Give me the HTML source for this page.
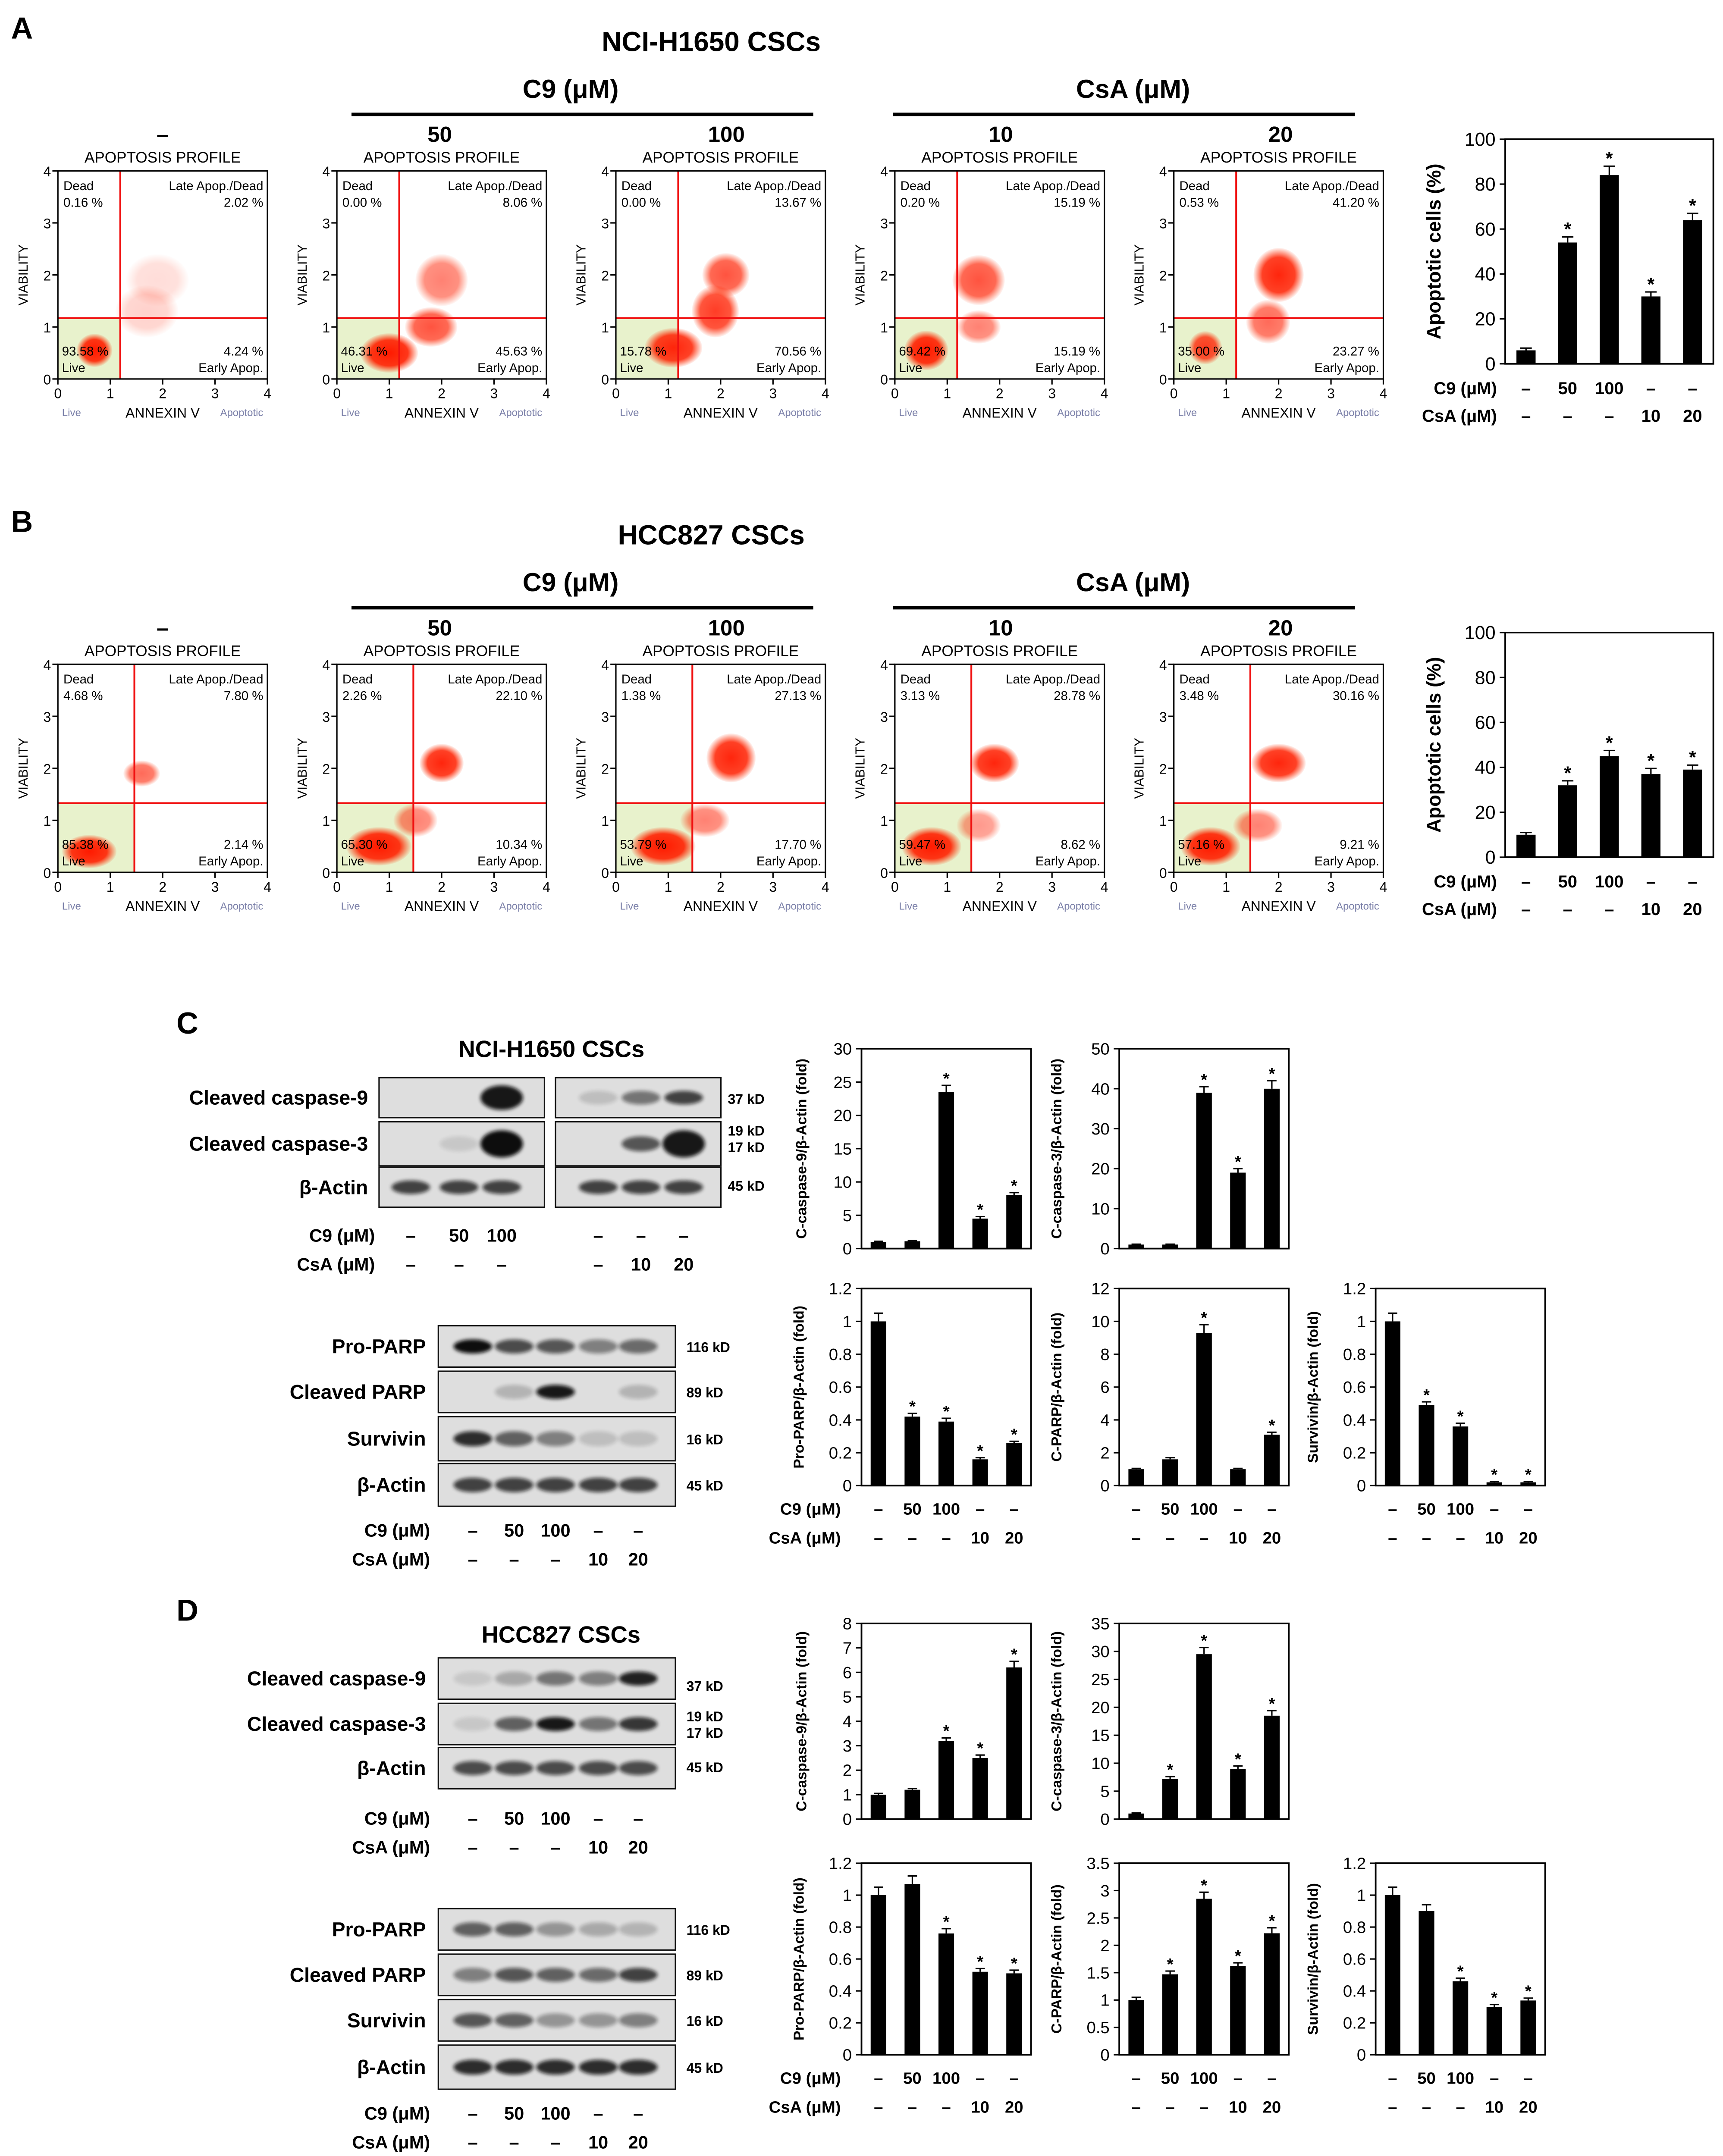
<!DOCTYPE html>
<html><head><meta charset="utf-8">
<style>
html,body{margin:0;padding:0;background:#fff;width:3995px;height:5019px;overflow:hidden;}
svg{display:block;}
text{font-family:"Liberation Sans",Arial,sans-serif;}
</style></head>
<body>
<svg id="fig" xmlns="http://www.w3.org/2000/svg" width="3995" height="5019" viewBox="0 0 1250 1570.4" preserveAspectRatio="none">
<defs>
<filter id="blur" x="-50%" y="-50%" width="200%" height="200%"><feGaussianBlur stdDeviation="1.3"/></filter>
<radialGradient id="cloud"><stop offset="0" stop-color="#ff1a00" stop-opacity="1"/><stop offset="0.65" stop-color="#ff2000" stop-opacity="0.9"/><stop offset="1" stop-color="#ff3000" stop-opacity="0.05"/></radialGradient>
</defs>
</svg>
<script>
// ---------- DATA ----------
const flowPctA=[["0.16","2.02","4.24","93.58"],["0.00","8.06","45.63","46.31"],["0.00","13.67","70.56","15.78"],["0.20","15.19","15.19","69.42"],["0.53","41.20","23.27","35.00"]];
const flowPctB=[["4.68","7.80","2.14","85.38"],["2.26","22.10","10.34","65.30"],["1.38","27.13","17.70","53.79"],["3.13","28.78","8.62","59.47"],["3.48","30.16","9.21","57.16"]];
const clustersA=[
 [[0.7,0.55,0.34,0.32,1],[1.7,1.3,0.6,0.5,0.2],[1.9,1.9,0.6,0.5,0.15]],
 [[1.0,0.5,0.55,0.38,1],[1.8,1.0,0.5,0.38,0.75],[2.0,1.9,0.5,0.5,0.55]],
 [[1.1,0.6,0.55,0.38,0.95],[1.9,1.3,0.45,0.5,0.85],[2.1,2.0,0.45,0.42,0.75]],
 [[0.6,0.55,0.42,0.38,1],[1.6,1.9,0.5,0.48,0.75],[1.6,1.0,0.42,0.32,0.55]],
 [[0.6,0.6,0.32,0.32,0.85],[2.0,2.0,0.48,0.52,0.95],[1.8,1.1,0.42,0.42,0.65]]];
const clustersB=[
 [[0.6,0.4,0.52,0.32,1],[1.6,1.9,0.35,0.25,0.65]],
 [[0.8,0.5,0.62,0.37,1],[2.0,2.1,0.42,0.37,0.95],[1.5,1.0,0.42,0.32,0.55]],
 [[0.9,0.5,0.62,0.37,1],[2.2,2.2,0.47,0.47,0.95],[1.7,1.0,0.47,0.32,0.55]],
 [[0.7,0.5,0.57,0.37,1],[1.9,2.1,0.47,0.37,0.95],[1.6,0.9,0.42,0.32,0.45]],
 [[0.7,0.5,0.57,0.37,1],[2.0,2.1,0.52,0.37,0.95],[1.6,0.9,0.47,0.32,0.55]]];
const quadA=[1.19,1.17];
const quadB=[1.46,1.33];
const c9Labels=["–","50","100","–","–"];
const csaLabels=["–","–","–","10","20"];
const apoA=[6,54,84,30,64];const apoAErr=[1,2.5,4,2,3];const apoAStar=[0,1,1,1,1];
const apoB=[10,32,45,37,39];const apoBErr=[1,2,2.5,2.5,2];const apoBStar=[0,1,1,1,1];
const cCas9=[1,1.1,23.5,4.5,8];const cCas9Err=[0.1,0.1,1,0.3,0.4];const cCas9Star=[0,0,1,1,1];
const cCas3=[1,1,39,19,40];const cCas3Err=[0.1,0.1,1.5,1,2];const cCas3Star=[0,0,1,1,1];
const cPro=[1,0.42,0.39,0.16,0.26];const cProErr=[0.05,0.02,0.02,0.01,0.01];const cProStar=[0,1,1,1,1];
const cCparp=[1,1.6,9.3,1,3.1];const cCparpErr=[0.05,0.1,0.5,0.05,0.15];const cCparpStar=[0,0,1,0,1];
const cSurv=[1,0.49,0.36,0.02,0.02];const cSurvErr=[0.05,0.02,0.02,0.005,0.005];const cSurvStar=[0,1,1,1,1];
const dCas9=[1,1.2,3.2,2.5,6.2];const dCas9Err=[0.05,0.05,0.12,0.12,0.25];const dCas9Star=[0,0,1,1,1];
const dCas3=[1,7.2,29.5,9,18.5];const dCas3Err=[0.1,0.4,1.2,0.5,0.9];const dCas3Star=[0,1,1,1,1];
const dPro=[1,1.07,0.76,0.52,0.51];const dProErr=[0.05,0.05,0.03,0.02,0.02];const dProStar=[0,0,1,1,1];
const dCparp=[1,1.47,2.85,1.62,2.22];const dCparpErr=[0.05,0.06,0.12,0.06,0.1];const dCparpStar=[0,1,1,1,1];
const dSurv=[1,0.9,0.46,0.3,0.34];const dSurvErr=[0.05,0.04,0.02,0.015,0.015];const dSurvStar=[0,0,1,1,1];

// ---------- HELPERS ----------
const NS='http://www.w3.org/2000/svg';
const svg=document.getElementById('fig');
function mk(tag,a,p){const e=document.createElementNS(NS,tag);for(const k in a)e.setAttribute(k,a[k]);(p||svg).appendChild(e);return e;}
function tx(x,y,s,size,anchor,weight,fill,p,rot){
  const e=mk('text',{x:x,y:y,'font-size':size,'text-anchor':anchor||'start','font-weight':weight||'normal',fill:fill||'#000'},p);
  if(rot)e.setAttribute('transform','rotate(-90 '+x+' '+y+')');
  e.textContent=s;return e;}
function line(x1,y1,x2,y2,st,w,p){return mk('line',{x1:x1,y1:y1,x2:x2,y2:y2,stroke:st||'#000','stroke-width':w||1},p);}

// ---------- FLOW PLOT ----------
function flow(ox,oy,pcts,clusters,q,name){
  const g=mk('g',{});
  
  
  const W=152,H=151;
  const sx=v=>ox+v*W/4, sy=v=>oy-v*H/4;
  tx(ox+W/2,oy-H-6,'APOPTOSIS PROFILE',11,'middle','normal','#000',g);
  mk('rect',{x:sx(0),y:sy(q[1]),width:sx(q[0])-sx(0),height:sy(0)-sy(q[1]),fill:'#e8f2cc'},g);
  clusters.forEach(c=>{
    const e=mk('ellipse',{cx:sx(c[0]),cy:sy(c[1]),rx:c[2]*W/4,ry:c[3]*H/4,fill:'url(#cloud)',opacity:c[4]},g);
    
    
  });
  line(sx(q[0]),sy(4),sx(q[0]),sy(0),'#f01010',1.3,g);
  line(sx(0),sy(q[1]),sx(4),sy(q[1]),'#f01010',1.3,g);
  mk('rect',{x:ox,y:oy-H,width:W,height:H,fill:'none',stroke:'#000','stroke-width':1},g);
  for(let i=0;i<=4;i++){
    line(sx(i),oy,sx(i),oy+4,'#000',1,g);line(ox-4,sy(i),ox,sy(i),'#000',1,g);
    tx(sx(i),oy+14,String(i),10,'middle','normal','#000',g);
    tx(ox-5,sy(i)+4,String(i),10,'end','normal','#000',g);
  }
  tx(ox+4,oy-137,'Dead',9.2,'start','normal','#000',g);
  tx(ox+4,oy-125,pcts[0]+' %',9.2,'start','normal','#000',g);
  tx(ox+W-3,oy-137,'Late Apop./Dead',9.2,'end','normal','#000',g);
  tx(ox+W-3,oy-125,pcts[1]+' %',9.2,'end','normal','#000',g);
  tx(ox+W-3,oy-17,pcts[2]+' %',9.2,'end','normal','#000',g);
  tx(ox+W-3,oy-5,'Early Apop.',9.2,'end','normal','#000',g);
  tx(ox+3,oy-17,pcts[3]+' %',9.2,'start','normal','#000',g);
  tx(ox+3,oy-5,'Live',9.2,'start','normal','#000',g);
  tx(ox-22,oy-H/2,'VIABILITY',9.5,'middle','normal','#000',g,true);
  tx(ox+3,oy+27,'Live',7.5,'start','normal','#7a7fa8',g);
  tx(ox+W/2,oy+28,'ANNEXIN V',10,'middle','normal','#000',g);
  tx(ox+W-3,oy+27,'Apoptotic',7.5,'end','normal','#7a7fa8',g);
}

// ---------- BAR CHART ----------
function bars(x1,x2,ytop,ybot,max,step,dec,vals,errs,stars,ylab,fs,ylx,name){
  const g=mk('g',{});
  
  
  const ys=v=>ybot-(v/max)*(ybot-ytop);
  const sp=(x2-x1)/5;const bw=sp*0.46;
  const xs=i=>x1+(i+0.5)*sp;
  mk('rect',{x:x1,y:ytop,width:x2-x1,height:ybot-ytop,fill:'none',stroke:'#000','stroke-width':1.2},g);
  for(let v=0;v<=max+1e-9;v+=step){
    line(x1-4,ys(v),x1,ys(v),'#000',1,g);
    tx(x1-7,ys(v)+fs*0.35,+v.toFixed(dec)+'',fs,'end','normal','#000',g);
  }
  vals.forEach((v,i)=>{
    const r=mk('rect',{x:xs(i)-bw/2,y:ys(v),width:bw,height:ybot-ys(v),fill:'#000'},g);
    
    
    const e=errs[i];
    line(xs(i),ys(v+e),xs(i),ys(v),'#000',1,g);
    line(xs(i)-bw*0.3,ys(v+e),xs(i)+bw*0.3,ys(v+e),'#000',1,g);
    if(stars[i])tx(xs(i),ys(v+e)-1,'*',fs,'middle','bold','#000',g);
  });
  tx(ylx,(ytop+ybot)/2,ylab,fs*(name.startsWith('apoptotic')?1.05:0.88),'middle','bold','#000',g,true);
  return xs;
}
function catRows(xs,y1,y2,lx,fs,name){
  const g=mk('g',{});
  
  
  if(lx){
  tx(lx,y1,'C9 (μM)',fs,'end','bold','#000',g);
  tx(lx,y2,'CsA (μM)',fs,'end','bold','#000',g);}
  c9Labels.forEach((s,i)=>tx(xs(i),y1,s,fs,'middle','bold','#000',g));
  csaLabels.forEach((s,i)=>tx(xs(i),y2,s,fs,'middle','bold','#000',g));
}

// ---------- PANELS A & B ----------
function panelAB(dy,letter,title,pcts,clusters,q,apo,err,star,nm){
  tx(8,28+dy,letter,22,'start','bold');
  tx(516,37+dy,title,20,'middle','bold');
  tx(414,71+dy,'C9 (μM)',19,'middle','bold');
  tx(822,71+dy,'CsA (μM)',19,'middle','bold');
  line(255,83+dy,590,83+dy,'#000',2.5);
  line(648,83+dy,983,83+dy,'#000',2.5);
  const dl=['–','50','100','10','20'];const dx=[118,319,527,726,929];
  dl.forEach((s,i)=>tx(dx[i],103+dy,s,16,'middle','bold'));
  for(let i=0;i<5;i++) flow(42+202.4*i,275+dy,pcts[i],clusters[i],q,nm+'-flow-'+(i+1));
  const xs=bars(1092,1243,101+dy,264+dy,100,20,0,apo,err,star,'Apoptotic cells (%)',13.5,1045,'apoptotic-'+nm);
  catRows(xs,286+dy,306+dy,1086,12.5,nm+'-treatment-labels');
}
panelAB(0,'A','NCI-H1650 CSCs',flowPctA,clustersA,quadA,apoA,apoAErr,apoAStar,'a');
panelAB(358,'B','HCC827 CSCs',flowPctB,clustersB,quadB,apoB,apoBErr,apoBStar,'b');

// ---------- BLOTS ----------
function blotRow(x,y,w,h,lanes,ints,bw,name,big){
  const g=mk('g',{});
  
  
  mk('rect',{x:x,y:y,width:w,height:h,fill:'#dedede',stroke:'#111','stroke-width':1},g);
  lanes.forEach((lx,i)=>{
    const v=ints[i];if(v<=0)return;
    mk('ellipse',{cx:lx,cy:y+h/2,rx:bw/2*(big&&v>0.9?1.1:1),ry:h*0.17*(big&&v>0.9?1.8:1),fill:'#111',opacity:v,filter:'url(#blur)'},g);
  });
}
function laneLabels(lanes,y1,y2,lx,fs,name){
  const g=mk('g',{});
  
  
  tx(lx,y1,'C9 (μM)',fs,'end','bold','#000',g);
  tx(lx,y2,'CsA (μM)',fs,'end','bold','#000',g);
  lanes.forEach((x,i)=>{tx(x,y1,c9Labels[i],fs,'middle','bold','#000',g);tx(x,y2,csaLabels[i],fs,'middle','bold','#000',g);});
}
const A5=[0.75,0.75,0.75,0.75,0.75];
// Panel C
tx(128,750,'C',22,'start','bold');
tx(400,767,'NCI-H1650 CSCs',17,'middle','bold');
const cl1=[298,333,364],cl2=[434,465,496];
[['Cleaved caspase-9',782,29,[0,0,0.95],[0.15,0.5,0.75]],['Cleaved caspase-3',814,32,[0,0.1,1],[0,0.65,0.95]],['β-Actin',847,29,[0.75,0.75,0.75],[0.75,0.75,0.75]]].forEach((r,k)=>{
  tx(267,r[1]+r[2]/2+5,r[0],14.5,'end','bold');
  blotRow(275,r[1],120,r[2],cl1,r[3],28,'c-blot-'+k+'-a',true);
  blotRow(403,r[1],120,r[2],cl2,r[4],28,'c-blot-'+k+'-b',true);
});
[['37 kD',801],['19 kD',824],['17 kD',836],['45 kD',864]].forEach(r=>tx(528,r[1],r[0],10,'start','bold'));
laneLabels(cl1,901,922,272,13,'c-lanes-1');
['–','–','–'].forEach((s,i)=>tx(cl2[i],901,s,13,'middle','bold'));
['–','10','20'].forEach((s,i)=>tx(cl2[i],922,s,13,'middle','bold'));
const pl=[343,373,403,434,463];
[['Pro-PARP',962,30,[1,0.7,0.65,0.45,0.55],'116 kD'],['Cleaved PARP',995,30,[0,0.2,0.95,0,0.2],'89 kD'],['Survivin',1028,32,[0.85,0.6,0.45,0.15,0.15],'16 kD'],['β-Actin',1062,31,A5,'45 kD']].forEach((r,k)=>{
  tx(309,r[1]+r[2]/2+5,r[0],14.5,'end','bold');
  blotRow(318,r[1],172,r[2],pl,r[3],28,'c-parp-blot-'+k);
  tx(498,r[1]+r[2]/2+4,r[4],10,'start','bold');
});
laneLabels(pl,1115,1136,312,13,'c-lanes-2');
// Panel D
tx(128,1176,'D',22,'start','bold');
tx(407,1192,'HCC827 CSCs',17,'middle','bold');
[['Cleaved caspase-9',1203,30,[0.1,0.25,0.5,0.45,0.9]],['Cleaved caspase-3',1236,30,[0.1,0.6,0.95,0.5,0.8]],['β-Actin',1268,30,[0.7,0.7,0.7,0.7,0.7]]].forEach((r,k)=>{
  tx(309,r[1]+r[2]/2+5,r[0],14.5,'end','bold');
  blotRow(318,r[1],172,r[2],pl,r[3],28,'d-blot-'+k);
});
[['37 kD',1227],['19 kD',1249],['17 kD',1261],['45 kD',1286]].forEach(r=>tx(498,r[1],r[0],10,'start','bold'));
laneLabels(pl,1324,1345,312,13,'d-lanes-1');
[['Pro-PARP',1385,30,[0.6,0.6,0.35,0.25,0.2],'116 kD'],['Cleaved PARP',1418,30,[0.45,0.65,0.6,0.55,0.75],'89 kD'],['Survivin',1451,30,[0.65,0.6,0.35,0.35,0.45],'16 kD'],['β-Actin',1484,32,[0.85,0.85,0.85,0.85,0.85],'45 kD']].forEach((r,k)=>{
  tx(309,r[1]+r[2]/2+5,r[0],14.5,'end','bold');
  blotRow(318,r[1],172,r[2],pl,r[3],28,'d-parp-blot-'+k);
  tx(498,r[1]+r[2]/2+4,r[4],10,'start','bold');
});
laneLabels(pl,1538,1559,312,13,'d-lanes-2');

// ---------- C/D CHARTS ----------
const X1=[625,748],X2=[812,935],X3=[998,1121];
bars(X1[0],X1[1],761,906,30,5,0,cCas9,cCas9Err,cCas9Star,'C-caspase-9/β-Actin (fold)',12,585,'c-caspase9-chart');
bars(X2[0],X2[1],761,906,50,10,0,cCas3,cCas3Err,cCas3Star,'C-caspase-3/β-Actin (fold)',12,770,'c-caspase3-chart');
let xs=bars(X1[0],X1[1],935,1078,1.2,0.2,1,cPro,cProErr,cProStar,'Pro-PARP/β-Actin (fold)',12,583,'c-proparp-chart');
catRows(xs,1099,1120,610,12,'c-chart-labels-1');
xs=bars(X2[0],X2[1],935,1078,12,2,0,cCparp,cCparpErr,cCparpStar,'C-PARP/β-Actin (fold)',12,770,'c-cparp-chart');
catRows(xs,1099,1120,0,12,'c-chart-labels-2');
xs=bars(X3[0],X3[1],935,1078,1.2,0.2,1,cSurv,cSurvErr,cSurvStar,'Survivin/β-Actin (fold)',12,956,'c-survivin-chart');
catRows(xs,1099,1120,0,12,'c-chart-labels-3');
bars(X1[0],X1[1],1178,1320,8,1,0,dCas9,dCas9Err,dCas9Star,'C-caspase-9/β-Actin (fold)',12,585,'d-caspase9-chart');
bars(X2[0],X2[1],1178,1320,35,5,0,dCas3,dCas3Err,dCas3Star,'C-caspase-3/β-Actin (fold)',12,770,'d-caspase3-chart');
xs=bars(X1[0],X1[1],1352,1491,1.2,0.2,1,dPro,dProErr,dProStar,'Pro-PARP/β-Actin (fold)',12,583,'d-proparp-chart');
catRows(xs,1512,1533,610,12,'d-chart-labels-1');
xs=bars(X2[0],X2[1],1352,1491,3.5,0.5,1,dCparp,dCparpErr,dCparpStar,'C-PARP/β-Actin (fold)',12,770,'d-cparp-chart');
catRows(xs,1512,1533,0,12,'d-chart-labels-2');
xs=bars(X3[0],X3[1],1352,1491,1.2,0.2,1,dSurv,dSurvErr,dSurvStar,'Survivin/β-Actin (fold)',12,956,'d-survivin-chart');
catRows(xs,1512,1533,0,12,'d-chart-labels-3');
</script>
</body></html>
